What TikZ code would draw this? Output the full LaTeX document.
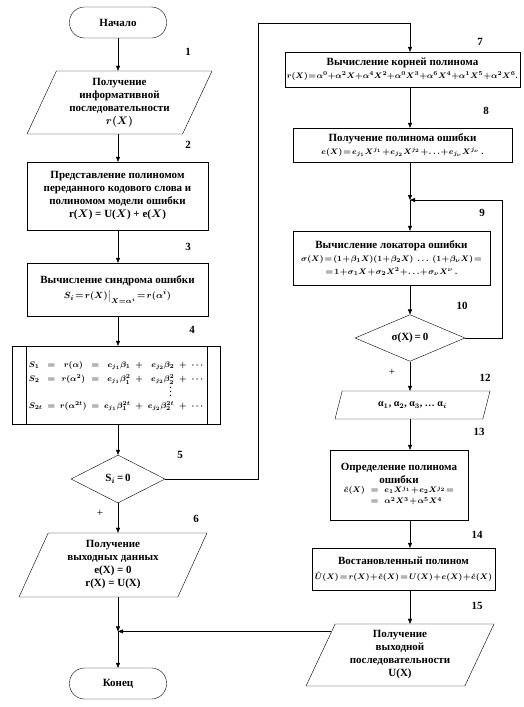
\documentclass[tikz,border=0pt]{standalone}
\usepackage{fontspec}
\setmainfont{Liberation Serif}
\usetikzlibrary{shapes.geometric,arrows.meta}
\newcommand\fml{\fontsize{8.5}{10}\selectfont\medmuskip=1mu\thickmuskip=2mu}

\begin{document}
\begin{tikzpicture}[x=1pt,y=-1pt,
  every node/.style={font=\bfseries\boldmath\fontsize{11}{13}\selectfont},
  term/.style={draw,rounded corners=15pt,minimum width=97,minimum height=31},
  proc/.style={draw,align=center,inner sep=2pt},
  io/.style={draw,trapezium,trapezium left angle=60,trapezium right angle=120,
    trapezium stretches body,align=center,inner sep=1pt},
  cond/.style={draw,diamond,inner sep=0pt},
  arr/.style={-{Triangle[length=5pt,width=4pt]}}]
\useasboundingbox (0,0) rectangle (524,707);

% left column
\node[term] (start) at (118,22.5) {Начало};
\node[io,minimum width=185,minimum height=63] (io1) at (119.5,102.5)
  {Получение\\информативной\\последовательности\\$r(X)$};
\node[proc,minimum width=181,minimum height=68] (b2) at (117.5,196)
  {Представление полиномом\\переданного кодового слова и\\полиномом модели ошибки\\r($X$) = U($X$) + e($X$)};
\node[proc,minimum width=181,minimum height=53] (b3) at (117.5,289.5)
  {Вычисление синдрома ошибки\\[2pt]{\fml\fontsize{9.5}{11}\selectfont$S_i = r(X)\big|_{X=\alpha^i} = r(\alpha^i)$}};
\node[draw,minimum width=208,minimum height=78,inner sep=0pt] (b4) at (116,385)
  {\fontsize{8.5}{10}\selectfont$\arraycolsep=2.4pt\renewcommand\arraystretch{1.4}\begin{array}{lcccrcrcl}
    S_1 & = & r(\alpha) & = & e_{j_1}\beta_1 & + & e_{j_2}\beta_2 & + & \cdots\\
    S_2 & = & r(\alpha^2) & = & e_{j_1}\beta_1^2 & + & e_{j_2}\beta_2^2 & + & \cdots\\[-5pt]
        &   &           &   &                &   & \vdots\;     &   & \\[-2pt]
    S_{2t} & = & r(\alpha^{2t}) & = & e_{j_1}\beta_1^{2t} & + & e_{j_2}\beta_2^{2t} & + & \cdots
  \end{array}$};
\draw ([xshift=14]b4.north west) -- ([xshift=14]b4.south west);
\draw ([xshift=-13]b4.north east) -- ([xshift=-13]b4.south east);
\node[cond,minimum width=94,minimum height=48] (d5) at (118,479) {S$_i$\,=\,0};
\node[io,minimum width=188,minimum height=64] (io6) at (113,565)
  {Получение\\выходных данных\\e(X) = 0\\r(X) = U(X)};
\node[term] (end) at (118,683.5) {Конец};

% right column
\node[proc,minimum width=219,minimum height=35] (b7) at (402.5,69.5)
  {Вычисление корней полинома\\{\fml\fontsize{8}{9}\selectfont\medmuskip=0mu\thickmuskip=1mu
   $r(X)=\alpha^0+\alpha^2X+\alpha^4X^2+\alpha^0X^3+\alpha^6X^4+\alpha^1X^5+\alpha^2X^6.$}};
\node[proc,minimum width=219,minimum height=34] (b8) at (402.5,145)
  {Получение полинома ошибки\\{\fml
   $e(X)=e_{j_1}X^{j_1}+e_{j_2}X^{j_2}+\ldots+e_{j_\nu}X^{j_\nu}$ .}};
\node[proc,minimum width=197,minimum height=54] (b9) at (391.5,258)
  {Вычисление локатора ошибки\\{\fml
   $\sigma(X)=(1+\beta_1X)(1+\beta_2X)\ \ldots\ (1+\beta_\nu X)=$}\\{\fml
   $=1+\sigma_1X+\sigma_2X^2+\ldots+\sigma_\nu X^\nu$ .}};
\node[cond,minimum width=110,minimum height=43] (d10) at (410,338) {σ(X)\,=\,0};
\node[io,trapezium left angle=49,trapezium right angle=131,minimum width=155,minimum height=28]
  (io12) at (412.5,405) {\fontsize{10}{12}\selectfont α$_1$, α$_2$, α$_3$, … α$_i$};
\node[proc,minimum width=138,minimum height=70,inner sep=1pt] (b13) at (399,485)
  {\fontsize{11}{12.5}\selectfont Определение полинома\\ошибки\\[1pt]{\fml
   $\arraycolsep=3pt\renewcommand\arraystretch{1.1}\begin{array}{rcl}\hat e(X) & = & e_1X^{j_1}+e_2X^{j_2}=\\
     & = & \alpha^2X^3+\alpha^5X^4\end{array}$}};
\node[proc,minimum width=183,minimum height=42] (b14) at (403.5,569)
  {Востановленный полином\\[2pt]{\fml
   $\hat U(X)=r(X)+\hat e(X)=U(X)+e(X)+\hat e(X)$}};
\node[io,minimum width=188,minimum height=62] (io15) at (400,655)
  {Получение\\выходной\\последовательности\\U(X)};

% numbers
\node (n1) at (188,52) {1};
\node (n2) at (188,145) {2};
\node (n3) at (188,247) {3};
\node (n4) at (192,330) {4};
\node (n5) at (180,455) {5};
\node (n6) at (196,519) {6};
\node (n7) at (480,42) {7};
\node (n8) at (486,111) {8};
\node (n9) at (482,213) {9};
\node (n10) at (462,306) {10};
\node (n12) at (485,378) {12};
\node (n13) at (479,432) {13};
\node (n14) at (477,535) {14};
\node (n15) at (477,606) {15};
\node[font=\fontsize{11}{13}\selectfont] (p5) at (100,513) {+};
\node[font=\fontsize{11}{13}\selectfont] (p10) at (392,372) {+};

% connectors
\coordinate (c1) at (118,0);
\coordinate (c2) at (410,0);
\coordinate (t1) at (258,23);
\coordinate (t2) at (502,200);
\coordinate (j2) at (410,200);
\coordinate (j1) at (io15.161 -| c1);
\draw[arr] (start.south -| c1) -- (io1.north -| c1);
\draw[arr] (io1.south -| c1) -- (b2.north -| c1);
\draw[arr] (b2.south -| c1) -- (b3.north -| c1);
\draw[arr] (b3.south -| c1) -- (b4.north -| c1);
\draw[arr] (b4.south -| c1) -- (d5.north);
\draw[arr] (d5.south) -- (io6.north -| c1);
\draw[arr] (io6.south -| c1) -- (j1);
\draw[arr] (io15.161) -- (j1);
\draw[arr] (j1) -- (end.north);
\draw[arr] (d5.east) -| (t1) -| (b7.north -| c2);
\draw[arr] (b7.south -| c2) -- (b8.north -| c2);
\draw[arr] (b8.south -| c2) -- (j2);
\draw[arr] (j2) -- (b9.north -| c2);
\draw[arr] (b9.south -| c2) -- (d10.north);
\draw[arr] (d10.east) -| (t2) -- (j2);
\draw[arr] (d10.south) -- (io12.north -| c2);
\draw[arr] (io12.south -| c2) -- (b13.north -| c2);
\draw[arr] (b13.south -| c2) -- (b14.north -| c2);
\draw[arr] (b14.south -| c2) -- (io15.north -| c2);
\end{tikzpicture}
\end{document}
